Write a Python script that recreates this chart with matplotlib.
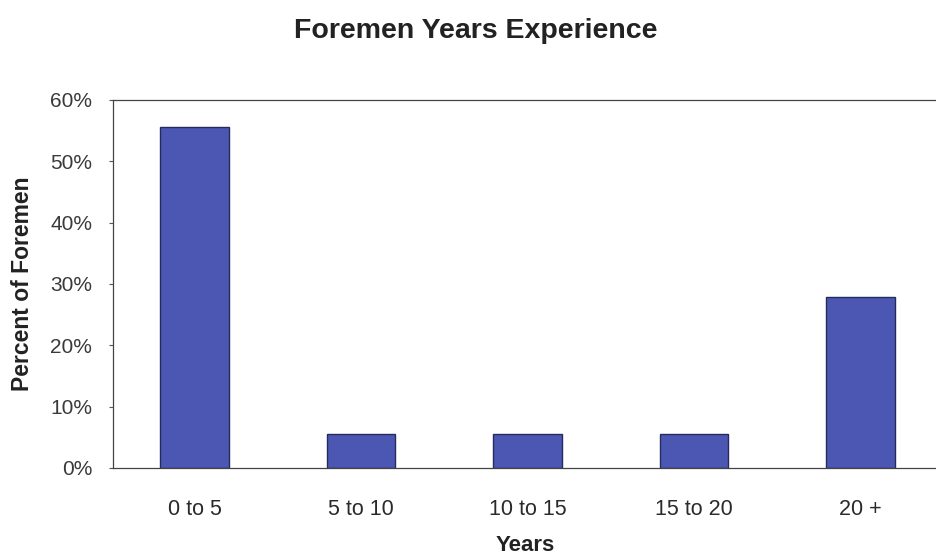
import matplotlib.pyplot as plt
from matplotlib.ticker import PercentFormatter

# Share of foremen by years of experience (18 foremen surveyed)
categories = ['0 to 5', '5 to 10', '10 to 15', '15 to 20', '20 +']
percent = [55.6, 5.6, 5.6, 5.6, 27.8]
y_ticks = [0, 10, 20, 30, 40, 50, 60]

plt.rcParams['font.family'] = ['Liberation Sans', 'DejaVu Sans']

fig = plt.figure(figsize=(9.37, 5.58), dpi=100)
ax = fig.add_axes([0.1206, 0.1613, 0.8794, 0.6595])

ax.bar(range(len(categories)), percent, width=0.41,
       color='#4c57b3', edgecolor='#262b5e', linewidth=1.0)

ax.set_xlim(-0.49, 4.46)
ax.set_ylim(0, 60)
ax.set_yticks(y_ticks)
ax.yaxis.set_major_formatter(PercentFormatter(decimals=0))
ax.set_xticks(range(len(categories)))
ax.set_xticklabels(categories)

ax.tick_params(axis='y', labelsize=15, labelcolor='#3a3a3a', length=3,
               color='#555555', pad=12)
ax.tick_params(axis='x', labelsize=15.5, labelcolor='#2a2a2a', length=0, pad=22)

for side in ['left', 'top', 'bottom']:
    ax.spines[side].set_color('#444444')
    ax.spines[side].set_linewidth(0.9)
ax.spines['right'].set_visible(False)

ax.set_ylabel('Percent of Foremen', fontsize=16.5, fontweight='bold',
              color='#222222', labelpad=12)
ax.set_xlabel('Years', fontsize=16, fontweight='bold', color='#222222',
              labelpad=11)
fig.text(0.508, 0.945, 'Foremen Years Experience', fontsize=20.5,
         fontweight='bold', color='#222222', ha='center', va='center')

fig.savefig('out.png', dpi=100)
